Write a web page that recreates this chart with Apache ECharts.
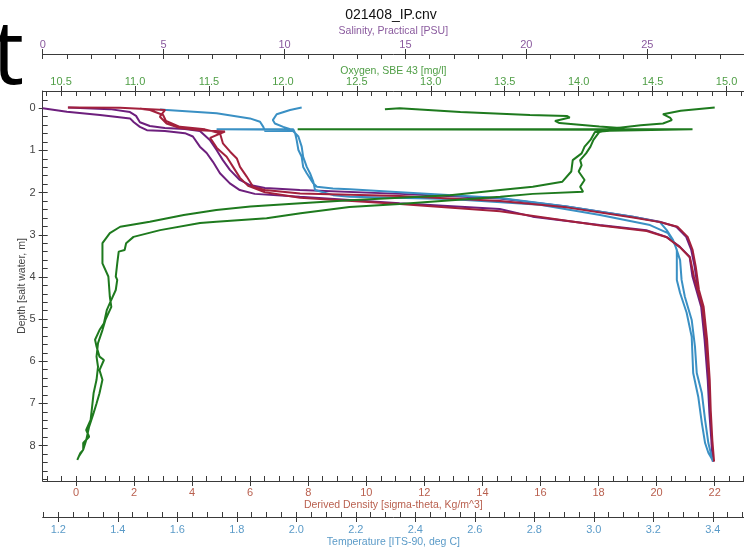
<!DOCTYPE html>
<html><head><meta charset="utf-8">
<script src="https://cdn.jsdelivr.net/npm/echarts@6/dist/echarts.min.js"></script>
<style>html,body{margin:0;padding:0;background:#fff}#c{width:744px;height:547px}</style>
</head><body><div id="c"></div><script>
// ---- tick labels ----
const depthTicks = [0,1,2,3,4,5,6,7,8];
const salinityTicks = [0,5,10,15,20,25];
const oxygenTicks = [10.5,11.0,11.5,12.0,12.5,13.0,13.5,14.0,14.5,15.0];
const densityTicks = [0,2,4,6,8,10,12,14,16,18,20,22];
const temperatureTicks = [1.2,1.4,1.6,1.8,2.0,2.2,2.4,2.6,2.8,3.0,3.2,3.4];

// ---- series values ----
const salinityValue = [0,1.00,2.37,3.61,3.77,4.02,4.31,5.05,5.88,6.21,6.50,6.78,7.04,7.33,7.74,8.15,8.77,10.63,14.76,18.90,20.26,23.03,24.96,25.79,26.34,26.75,26.87,27.03,27.23,27.37,27.50,27.57,27.65,27.71,27.66,27.60,27.53,27.43,27.29,27.10,26.96,26.82,26.61,26.20,25.51,24.39,21.65,18.90,14.76,10.63,9.19,8.57,8.15,7.74,7.45,7.19,6.91,6.50,5.88,5.05,4.43,4.02,3.86,3.61,2.78,1.05];
const salinityDepth = [0,0.08,0.16,0.24,0.33,0.44,0.52,0.54,0.59,0.67,0.91,1.06,1.27,1.54,1.78,1.94,2.03,2.10,2.25,2.39,2.57,2.77,2.89,3.05,3.28,3.52,3.99,4.31,4.71,5.49,6.44,7.23,7.87,8.38,7.98,7.27,6.44,5.49,4.71,4.31,3.76,3.36,3.05,2.81,2.69,2.57,2.33,2.14,2.03,1.94,1.89,1.82,1.70,1.46,1.23,0.99,0.75,0.54,0.49,0.47,0.42,0.33,0.18,0.09,0.02,-0.02];

const densityValue = [-0.28,1.52,2.55,3.07,2.89,3.12,3.58,4.27,5.13,4.62,4.85,5.19,5.41,5.65,5.93,6.51,7.72,11.16,14.61,18.05,19.66,20.35,20.81,21.15,21.29,21.41,21.58,21.70,21.81,21.87,21.92,21.98,21.93,21.87,21.83,21.74,21.62,21.46,21.35,21.24,21.07,20.72,20.12,19.19,16.90,14.61,11.16,7.72,6.51,6.10,5.88,5.65,5.54,5.31,5.06,4.96,4.44,3.58,3.10,3.00,2.55,2.21];
const densityDepth = [-0.02,-0.01,0.02,0.04,0.20,0.36,0.47,0.52,0.55,0.70,0.94,1.15,1.39,1.65,1.84,1.99,2.12,2.27,2.44,2.78,2.91,3.06,3.30,3.54,4.00,4.31,4.71,5.49,6.44,7.23,7.87,8.38,7.98,7.27,6.44,5.49,4.71,4.31,3.76,3.36,3.05,2.81,2.70,2.59,2.35,2.20,2.08,2.02,1.94,1.86,1.62,1.39,1.19,1.03,0.83,0.59,0.50,0.44,0.30,0.16,0.04,0.01];

const temperatureValue = [2.018,1.979,1.934,1.921,1.928,1.956,1.985,1.732,1.990,1.996,2.001,2.007,2.018,2.023,2.035,2.057,2.069,2.123,2.180,2.349,2.685,2.910,3.132,3.222,3.245,3.266,3.279,3.279,3.290,3.312,3.329,3.334,3.351,3.363,3.374,3.385,3.402,3.396,3.385,3.374,3.363,3.346,3.340,3.329,3.306,3.295,3.290,3.273,3.249,3.189,3.021,2.819,2.517,2.180,2.124,2.063,2.057,2.046,2.035,2.023,2.018,2.007,1.989,1.895,1.889,1.878,1.844,1.732,1.565,1.542];
const temperatureDepth = [-0.02,0.04,0.14,0.28,0.36,0.44,0.51,0.50,0.50,0.59,0.75,0.99,1.15,1.39,1.54,1.78,1.86,1.90,1.92,1.99,2.13,2.33,2.57,2.70,2.89,3.12,3.36,4.07,4.38,4.85,5.42,6.28,6.84,7.46,7.94,8.17,8.38,8.26,7.94,7.39,6.75,6.28,5.65,5.02,4.47,4.07,3.60,3.24,2.96,2.77,2.53,2.29,2.15,2.10,2.06,1.94,1.74,1.54,1.39,1.15,0.91,0.67,0.54,0.54,0.44,0.32,0.24,0.12,0.04,0.03];

const oxygenValue = [14.92,14.69,14.57,14.62,14.63,14.57,14.42,14.26,14.14,12.10,14.77,14.21,14.11,14.08,14.04,14.02,13.96,13.95,13.89,13.69,13.47,13.13,12.45,12.12,11.78,11.55,11.33,11.10,10.90,10.83,10.78,10.78,10.78,10.82,10.83,10.84,10.80,10.78,10.75,10.74,10.75,10.74,10.72,10.71,10.70,10.67,10.69,10.65,10.65,10.63,10.61,10.60,10.60,10.62,10.65,10.67,10.69,10.72,10.74,10.76,10.78,10.76,10.79,10.76,10.74,10.73,10.76,10.79,10.81,10.83,10.87,10.88,10.87,10.88,10.89,10.93,10.94,10.99,11.17,11.44,11.55,11.89,12.12,12.45,12.79,13.47,13.69,14.03,14.01,14.04,14.00,14.02,14.01,14.05,14.08,14.10,14.14,14.28,14.14,13.87,13.84,13.94,13.92,13.67,13.20,12.79,12.69];
const oxygenDepth = [-0.02,0.06,0.14,0.23,0.28,0.36,0.40,0.47,0.51,0.50,0.50,0.53,0.56,0.75,0.91,1.07,1.23,1.50,1.74,1.86,1.94,2.06,2.18,2.25,2.33,2.41,2.53,2.69,2.81,2.96,3.20,3.44,3.68,3.99,4.47,4.71,5.02,5.26,5.57,5.89,6.13,6.44,6.76,7.08,7.39,7.63,7.79,7.94,8.10,8.18,8.34,8.38,8.34,8.26,8.10,7.87,7.55,7.23,7.00,6.76,6.44,6.21,5.97,5.89,5.65,5.49,5.26,5.10,4.78,4.62,4.31,4.07,3.99,3.68,3.40,3.36,3.20,3.05,2.89,2.72,2.69,2.61,2.49,2.34,2.27,2.10,2.03,1.98,1.86,1.70,1.50,1.35,1.23,1.07,0.91,0.75,0.56,0.47,0.43,0.35,0.30,0.22,0.18,0.16,0.09,0.00,0.02];

// ---- helpers ----
function zip(xs, ys){ return xs.map((v,i)=>[v, ys[i]]); }
function steps(a,b,s){ const r=[]; const n=Math.round((b-a)/s); for(let i=0;i<=n;i++) r.push(Math.round((a+i*s)*1000)/1000); return r; }

const FONT = 'Liberation Sans';
const AX = '#3a3a3a';
const C_SAL = '#8a5a9e', C_OXY = '#4f9e45', C_DEN = '#b9604f', C_TMP = '#5b9bc8';
const L_SAL = '#6d1f7d', L_OXY = '#1e7a1e', L_DEN = '#a3203c', L_TMP = '#3a90c4';

function xPair(pos, offset, min, max, ticks, minor, color, name, nameGap, margin, fmt){
  return [
    { type:'value', gridIndex:0, position:pos, offset:offset, min:min, max:max,
      axisLine:{show:true, onZero:false, lineStyle:{color:AX, width:1}},
      axisTick:{show:true, inside:false, length:5, customValues:ticks, lineStyle:{color:AX, width:1}},
      axisLabel:{show:true, customValues:ticks, formatter:fmt, color:color, fontSize:11, fontFamily:FONT, margin:margin},
      splitLine:{show:false}, axisPointer:{show:false},
      name:name, nameLocation:'middle', nameGap:nameGap, nameMoveOverlap:false,
      nameTextStyle:{color:color, fontSize:10.5, fontFamily:FONT} },
    { type:'value', gridIndex:0, position:pos, offset:offset, min:min, max:max,
      axisLine:{show:false, onZero:false},
      axisTick:{show:true, inside:true, length:5, customValues:minor, lineStyle:{color:AX, width:1}},
      axisLabel:{show:false}, splitLine:{show:false}, axisPointer:{show:false} }
  ];
}

const f1 = v => Number(v).toFixed(1);
const f0 = v => String(Math.round(v));

const xAxes = [].concat(
  xPair('top', 37, 0, 29, salinityTicks, steps(0,29,1), C_SAL, 'Salinity, Practical [PSU]', 17, 4, f0),
  xPair('top', 0, 10.376, 15.118, oxygenTicks, steps(10.4,15.1,0.1), C_OXY, 'Oxygen, SBE 43 [mg/l]', 14, 4, f1),
  xPair('bottom', 0, -1.147, 23.011, densityTicks, steps(-1,23,0.5), C_DEN, 'Derived Density [sigma-theta, Kg/m^3]', 19, 6, f0),
  xPair('bottom', 36, 1.1475, 3.5048, temperatureTicks, steps(1.15,3.5,0.05), C_TMP, 'Temperature [ITS-90, deg C]', 20, 7, f1)
);

const yAxes = [
  { type:'value', gridIndex:0, position:'left', inverse:true, min:-0.41, max:8.84,
    axisLine:{show:true, onZero:false, lineStyle:{color:AX, width:1}},
    axisTick:{show:true, inside:false, length:4, customValues:depthTicks, lineStyle:{color:AX}},
    axisLabel:{show:true, customValues:depthTicks, color:'#444', fontSize:11, fontFamily:FONT, margin:7},
    splitLine:{show:false},
    name:'Depth [salt water, m]', nameLocation:'middle', nameGap:15, nameRotate:90, nameMoveOverlap:false,
    nameTextStyle:{color:'#444', fontSize:10.5, fontFamily:FONT} },
  { type:'value', gridIndex:0, position:'left', inverse:true, min:-0.41, max:8.84,
    axisLine:{show:false, onZero:false},
    axisTick:{show:true, inside:true, length:5, customValues:steps(-0.4,8.8,0.2), lineStyle:{color:AX}},
    axisLabel:{show:false}, splitLine:{show:false} }
];

function line(name, xi, data, color){
  return { name:name, type:'line', xAxisIndex:xi, yAxisIndex:0, data:data, showSymbol:false, symbol:'none',
    smooth:false, clip:true, lineStyle:{color:color, width:2}, emphasis:{disabled:true}, silent:true };
}

const chart = echarts.init(document.getElementById('c'), null, {renderer:'canvas'});
chart.setOption({
  animation:false,
  backgroundColor:'#ffffff',
  grid:{left:42.7, right:0, top:91, bottom:66, containLabel:false, outerBoundsMode:'none'},
  xAxis:xAxes,
  yAxis:yAxes,
  series:[
    line('Salinity', 0, zip(salinityValue, salinityDepth), L_SAL),
    line('Temperature', 6, zip(temperatureValue, temperatureDepth), L_TMP),
    line('Density', 4, zip(densityValue, densityDepth), L_DEN),
    line('Oxygen', 2, zip(oxygenValue, oxygenDepth), L_OXY)
  ],
  graphic:[
    {type:'text', x:391, y:15, style:{text:'021408_IP.cnv', fontSize:14, fontFamily:FONT, fill:'#111', align:'center', verticalAlign:'middle'}},
    {type:'text', x:-8, y:13, style:{text:'t', fontSize:90, fontFamily:'Open Sans', fill:'#000', align:'left', verticalAlign:'top'}}
  ]
});
</script></body></html>
